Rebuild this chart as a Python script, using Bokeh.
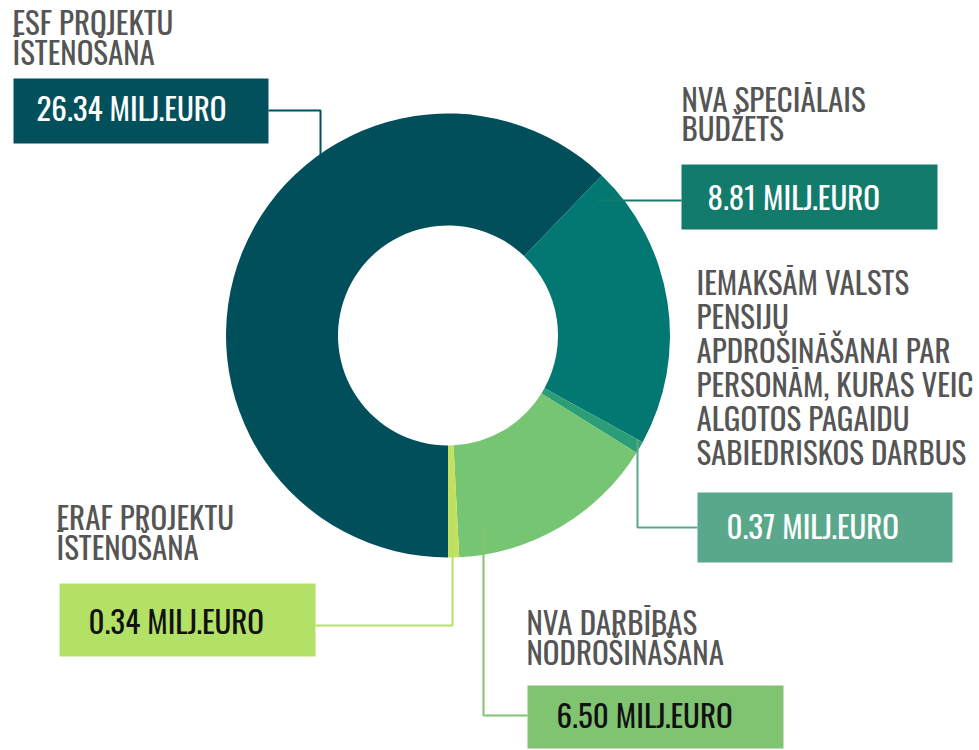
import math
from bokeh.plotting import figure
from bokeh.models import Range1d, ColumnDataSource
from bokeh.core.properties import value
from bokeh.embed import file_html
from bokeh.resources import INLINE

# ---- data ----
categories = ["ESF projektu īstenošana", "NVA speciālais budžets",
              "Iemaksām valsts pensiju apdrošināšanai", "NVA darbības nodrošināšana",
              "ERAF projektu īstenošana"]
values = [26.34, 8.81, 0.37, 6.50, 0.34]
unit = "MILJ.EURO"
title_lines = [
    ["ESF PROJEKTU", "ĪSTENOŠANA"],
    ["NVA SPECIĀLAIS", "BUDŽETS"],
    ["IEMAKSĀM VALSTS", "PENSIJU", "APDROŠINĀŠANAI PAR", "PERSONĀM, KURAS VEIC",
     "ALGOTOS PAGAIDU", "SABIEDRISKOS DARBUS"],
    ["NVA DARBĪBAS", "NODROŠINĀŠANA"],
    ["ERAF PROJEKTU", "ĪSTENOŠANA"],
]
slice_colors = ["#024f5c", "#037872", "#2b9e77", "#75c572", "#c5e05e"]
box_colors = ["#02505c", "#127b6c", "#5aa88b", "#80c472", "#b3e166"]
value_text_colors = ["#ffffff", "#ffffff", "#ffffff", "#111111", "#111111"]

# ---- layout (screen pixel coords, y from top) ----
W, H = 979, 750
CX, CY = 447.5, 335
R_OUT, R_IN = 222, 110
FONT = "Oswald"
FSIZE = "31px"
SHIFT = 12  # baseline correction for this font's metrics

# box: x0, x1, y0, y1 (screen)
boxes = [(13, 268, 78, 143), (681, 937, 164, 229), (697, 952, 492, 562),
         (527, 783, 685, 748), (59, 315, 583, 656)]
value_text_pos = [(36, 118), (707, 207), (726, 536), (556, 725), (88, 631)]
title_pos = [(12, 32, 30), (681, 109, 29), (696, 292, 34), (526, 632, 30), (56, 527, 30)]
leaders = [
    ([268, 320, 320], [110, 110, 160]),
    ([597, 681], [200, 200]),
    ([637, 637, 697], [439, 527, 527]),
    ([483, 483, 527], [522, 715, 715]),
    ([452, 452, 315], [495, 625, 625]),
]

def fy(y):
    return H - y

p = figure(width=W, height=H, x_range=Range1d(0, W), y_range=Range1d(0, H),
           output_backend="svg", toolbar_location=None, min_border=0)
p.axis.visible = False
p.grid.visible = False
p.outline_line_color = None
p.background_fill_color = "white"
p.border_fill_color = "white"

# donut wedges, clockwise from bottom
total = sum(values)
starts, ends = [], []
cum = 0.0
for v in values:
    a0 = math.radians(270 - 360 * cum / total)
    cum += v
    a1 = math.radians(270 - 360 * cum / total)
    starts.append(a0)
    ends.append(a1)
src = ColumnDataSource(dict(start=starts, end=ends, color=slice_colors, cat=categories))
p.annular_wedge(x=CX, y=fy(CY), inner_radius=R_IN, outer_radius=R_OUT,
                start_angle="start", end_angle="end", direction="clock",
                fill_color="color", line_color=None, source=src)

# leader lines
for (xs, ys), c in zip(leaders, box_colors):
    p.line(xs, [fy(y) for y in ys], line_color=c, line_width=2)

# value boxes
for (x0, x1, y0, y1), c in zip(boxes, box_colors):
    p.quad(left=x0, right=x1, top=fy(y0), bottom=fy(y1), fill_color=c, line_color=None)

# value texts
for i, v in enumerate(values):
    tx, ty = value_text_pos[i]
    p.text(x=[tx], y=[fy(ty - SHIFT)], text=[f"{v:.2f} {unit}"],
           text_font=value(FONT), text_font_style="normal", text_font_size=FSIZE,
           text_color=value_text_colors[i], text_baseline="alphabetic", text_align="left")

# titles
for lines, (tx, ty, lh) in zip(title_lines, title_pos):
    for j, ln in enumerate(lines):
        p.text(x=[tx], y=[fy(ty + j * lh - SHIFT)], text=[ln],
               text_font=value(FONT), text_font_style="normal", text_font_size=FSIZE,
               text_color="#555555", text_baseline="alphabetic", text_align="left")

open("out.html", "w").write(file_html(p, INLINE))
